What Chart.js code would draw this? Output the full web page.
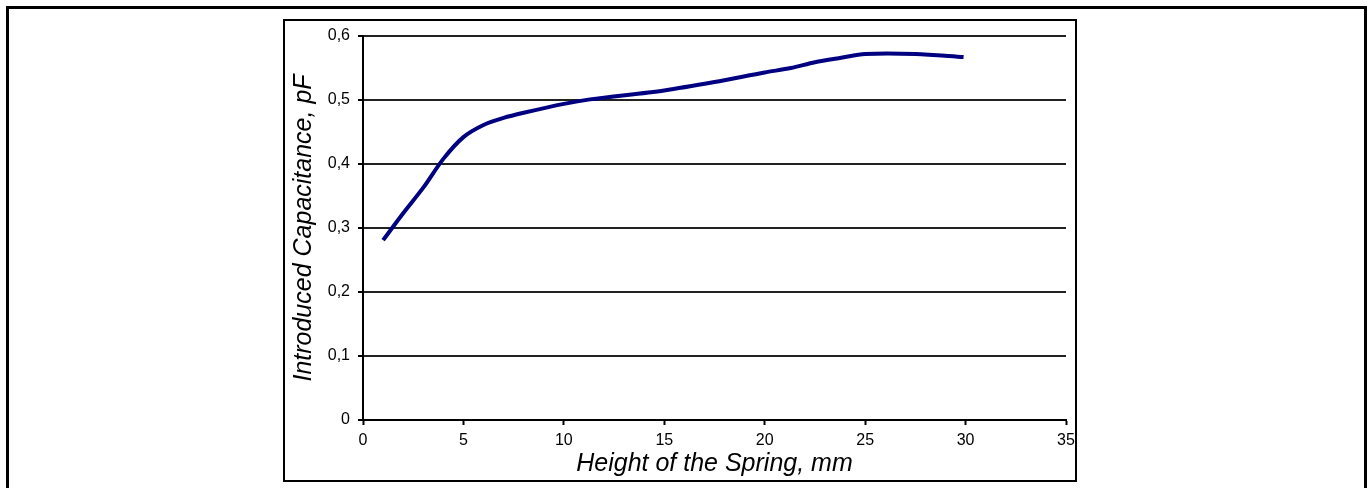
<!DOCTYPE html>
<html>
<head>
<meta charset="utf-8">
<script src="https://cdn.jsdelivr.net/npm/chart.js@4"></script>
<style>
  html, body { margin: 0; padding: 0; background: #fff; }
  #wrap { width: 1370px; height: 488px; }
</style>
</head>
<body>
<div id="wrap"><canvas id="myChart" width="1370" height="488"></canvas></div>
<script>
// Spring height (mm) vs introduced capacitance (pF)
const heights = [1, 2, 3, 4, 5, 6, 7, 8, 10, 11.3, 15, 17.5, 20, 21.3, 22.5, 23.8, 25, 27.5, 29.9];
const capacitance = [0.281, 0.323, 0.363, 0.408, 0.442, 0.461, 0.472, 0.480, 0.494, 0.501, 0.515, 0.528, 0.543, 0.550, 0.559, 0.566, 0.572, 0.572, 0.567];
const xTicks = [0, 5, 10, 15, 20, 25, 30, 35];
const yTicks = [0, 0.1, 0.2, 0.3, 0.4, 0.5, 0.6];

const fontFamily = '"Liberation Sans", Arial, sans-serif';

// frames around the page and around the chart
const framePlugin = {
    id: 'frames',
    beforeDraw(chart) {
        const c = chart.ctx;
        c.save();
        c.fillStyle = '#fff';
        c.fillRect(0, 0, chart.width, chart.height);
        c.strokeStyle = '#000';
        c.lineWidth = 3;
        c.beginPath();
        c.moveTo(7.5, 492);
        c.lineTo(7.5, 7.5);
        c.lineTo(1365.5, 7.5);
        c.lineTo(1365.5, 492);
        c.stroke();
        c.lineWidth = 2;
        c.strokeRect(284, 20, 792, 461);
        c.restore();
    }
};

const ctx = document.getElementById('myChart').getContext('2d');

const myChart = new Chart(ctx, {
    type: 'scatter',
    data: {
        datasets: [{
            label: 'Capacitance',
            data: heights.map((h, i) => ({ x: h, y: capacitance[i] })),
            showLine: true,
            borderColor: '#000080',
            borderWidth: 4,
            pointRadius: 0,
            tension: 0.3
        }]
    },
    options: {
        responsive: false,
        animation: false,
        devicePixelRatio: 1,
        layout: { padding: { left: 284, top: 36, right: 304, bottom: 7 } },
        plugins: {
            legend: { display: false },
            tooltip: { enabled: false }
        },
        scales: {
            x: {
                type: 'linear',
                min: xTicks[0],
                max: xTicks[xTicks.length - 1],
                afterFit(scale) { scale.height = 61; },
                afterBuildTicks(scale) { scale.ticks = xTicks.map(v => ({ value: v })); },
                border: { color: '#000', width: 2 },
                grid: { drawOnChartArea: false, drawTicks: true, tickLength: 5, tickColor: '#000', tickWidth: 2 },
                ticks: {
                    color: '#000',
                    padding: 6,
                    maxRotation: 0,
                    font: { family: fontFamily, size: 16 },
                    callback: v => String(v)
                },
                title: {
                    display: true,
                    text: 'Height of the Spring, mm',
                    color: '#000',
                    padding: { top: 0, bottom: 2 },
                    font: { family: fontFamily, size: 25, style: 'italic' }
                }
            },
            y: {
                type: 'linear',
                min: yTicks[0],
                max: yTicks[yTicks.length - 1],
                afterFit(scale) { scale.width = 79; },
                afterBuildTicks(scale) { scale.ticks = yTicks.map(v => ({ value: v })); },
                border: { color: '#000', width: 2 },
                grid: { color: '#222', lineWidth: 2, drawTicks: true, tickLength: 5, tickColor: '#000' },
                ticks: {
                    color: '#000',
                    padding: 8,
                    font: { family: fontFamily, size: 16 },
                    callback: v => v === 0 ? '0' : v.toFixed(1).replace('.', ',')
                },
                title: {
                    display: true,
                    text: 'Introduced Capacitance, pF',
                    color: '#000',
                    padding: { top: 5, bottom: 0 },
                    font: { family: fontFamily, size: 25, style: 'italic' }
                }
            }
        }
    },
    plugins: [framePlugin]
});
</script>
</body>
</html>
